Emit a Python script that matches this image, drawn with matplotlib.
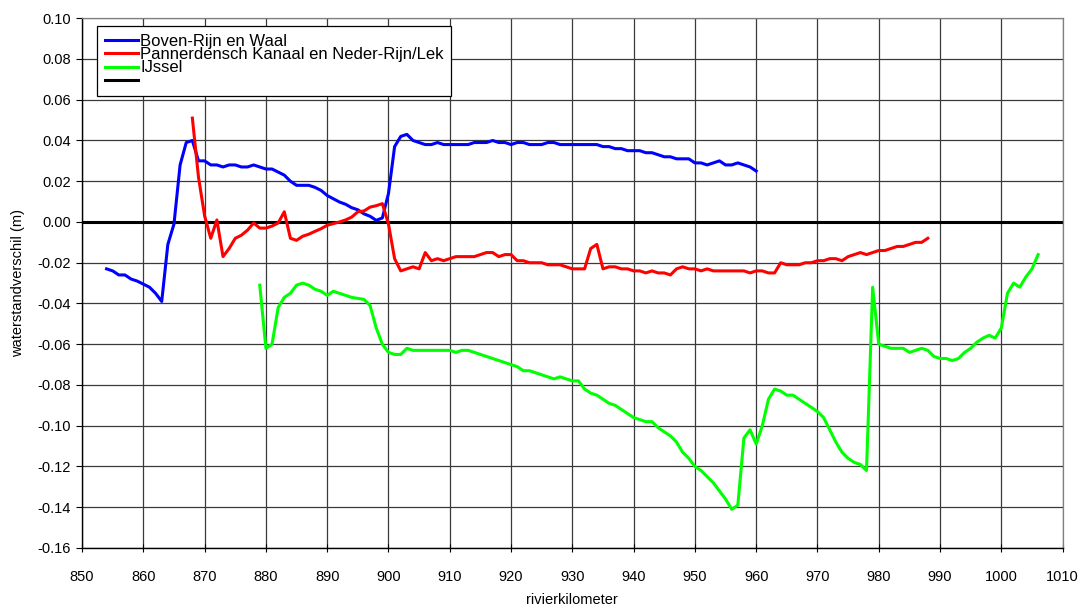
import numpy as np
import matplotlib
matplotlib.use("Agg")
import matplotlib.pyplot as plt

plt.rcParams['font.family'] = ['Liberation Sans', 'DejaVu Sans']
plt.rcParams['axes.unicode_minus'] = False

# Boven-Rijn en Waal
km_waal = np.arange(854, 961)
dh_waal = [-0.023, -0.024, -0.026, -0.026, -0.028, -0.029, -0.0305, -0.032, -0.035, -0.039,
           -0.011, -0.001, 0.028, 0.039, 0.040, 0.030, 0.030, 0.028, 0.028, 0.027,
           0.028, 0.028, 0.027, 0.027, 0.028, 0.027, 0.026, 0.026, 0.0245, 0.023,
           0.020, 0.018, 0.018, 0.018, 0.017, 0.0155, 0.013, 0.0114, 0.0098, 0.0087,
           0.007, 0.006, 0.004, 0.0028, 0.0008, 0.002, 0.014, 0.037, 0.042, 0.043,
           0.040, 0.039, 0.038, 0.038, 0.039, 0.038, 0.038, 0.038, 0.038, 0.038,
           0.039, 0.039, 0.039, 0.040, 0.039, 0.039, 0.038, 0.039, 0.039, 0.038,
           0.038, 0.038, 0.039, 0.039, 0.038, 0.038, 0.038, 0.038, 0.038, 0.038,
           0.038, 0.037, 0.037, 0.036, 0.036, 0.035, 0.035, 0.035, 0.034, 0.034,
           0.033, 0.032, 0.032, 0.031, 0.031, 0.031, 0.029, 0.029, 0.028, 0.029,
           0.030, 0.028, 0.028, 0.029, 0.028, 0.027, 0.025]

# Pannerdensch Kanaal en Neder-Rijn/Lek
km_lek = np.arange(868, 989)
dh_lek = [0.051, 0.022, 0.003, -0.008, 0.001, -0.017, -0.013, -0.008, -0.0065, -0.004,
          -0.0005, -0.003, -0.003, -0.002, -0.0005, 0.005, -0.008, -0.009, -0.007, -0.006,
          -0.0046, -0.0033, -0.0016, -0.0008, 0.000, 0.001, 0.0024, 0.005, 0.0054, 0.0073,
          0.008, 0.009, -0.001, -0.018, -0.024, -0.023, -0.022, -0.023, -0.015, -0.019,
          -0.018, -0.019, -0.018, -0.017, -0.017, -0.017, -0.017, -0.016, -0.015, -0.015,
          -0.017, -0.016, -0.016, -0.019, -0.019, -0.020, -0.020, -0.020, -0.021, -0.021,
          -0.021, -0.022, -0.023, -0.023, -0.023, -0.013, -0.011, -0.023, -0.022, -0.022,
          -0.023, -0.023, -0.024, -0.024, -0.025, -0.024, -0.025, -0.025, -0.026, -0.023,
          -0.022, -0.023, -0.023, -0.024, -0.023, -0.024, -0.024, -0.024, -0.024, -0.024,
          -0.024, -0.025, -0.024, -0.024, -0.025, -0.025, -0.020, -0.021, -0.021, -0.021,
          -0.020, -0.020, -0.019, -0.019, -0.018, -0.018, -0.019, -0.017, -0.016, -0.015,
          -0.016, -0.015, -0.014, -0.014, -0.013, -0.012, -0.012, -0.011, -0.010, -0.010,
          -0.008]

# IJssel
km_ijssel = np.arange(879, 1007)
dh_ijssel = [-0.031, -0.062, -0.060, -0.042, -0.037, -0.035, -0.031, -0.030, -0.031, -0.033,
             -0.034, -0.036, -0.034, -0.035, -0.036, -0.037, -0.0375, -0.038, -0.041, -0.052,
             -0.060, -0.064, -0.065, -0.065, -0.062, -0.063, -0.063, -0.063, -0.063, -0.063,
             -0.063, -0.063, -0.064, -0.063, -0.063, -0.064, -0.065, -0.066, -0.067, -0.068,
             -0.069, -0.070, -0.071, -0.073, -0.073, -0.074, -0.075, -0.076, -0.077, -0.076,
             -0.077, -0.078, -0.078, -0.082, -0.084, -0.085, -0.087, -0.089, -0.090, -0.092,
             -0.094, -0.096, -0.097, -0.098, -0.098, -0.101, -0.103, -0.105, -0.108, -0.113,
             -0.116, -0.120, -0.122, -0.125, -0.128, -0.132, -0.136, -0.141, -0.139, -0.106,
             -0.102, -0.109, -0.100, -0.087, -0.082, -0.083, -0.085, -0.085, -0.087, -0.089,
             -0.091, -0.093, -0.096, -0.102, -0.108, -0.113, -0.116, -0.118, -0.119, -0.122,
             -0.032, -0.060, -0.061, -0.062, -0.062, -0.062, -0.064, -0.063, -0.062, -0.063,
             -0.066, -0.067, -0.067, -0.068, -0.067, -0.064, -0.062, -0.059, -0.057, -0.0556,
             -0.057, -0.052, -0.035, -0.030, -0.032, -0.027, -0.023, -0.016]

series_labels = ['Boven-Rijn en Waal', 'Pannerdensch Kanaal en Neder-Rijn/Lek', 'IJssel']
xticks = list(range(850, 1011, 10))
yticks = [-0.16, -0.14, -0.12, -0.10, -0.08, -0.06, -0.04, -0.02,
          0.00, 0.02, 0.04, 0.06, 0.08, 0.10]
ytick_labels = ['%.2f' % v for v in yticks]

fig = plt.figure(figsize=(10.81, 6.08), dpi=100)
ax = fig.add_axes([0.0759, 0.0987, 0.9071, 0.8713])

# grid
ax.set_axisbelow(True)
ax.grid(True, color='#3a3a3a', linewidth=0.9)

l1, = ax.plot(km_waal, dh_waal, color='#0000ff', lw=2.2)
l2, = ax.plot(km_lek, dh_lek, color='#ff0000', lw=2.2)
l3, = ax.plot(km_ijssel, dh_ijssel, color='#00ff00', lw=2.2)
l0 = ax.axhline(0, color='black', lw=2.2, zorder=1.5)

ax.set_xlim(850, 1010)
ax.set_ylim(-0.16, 0.10)
ax.set_xticks(xticks)
ax.set_yticks(yticks)
ax.set_yticklabels(ytick_labels)

ax.tick_params(axis='y', direction='out', length=4, labelsize=10.5, pad=4)
ax.tick_params(axis='x', direction='inout', length=6, labelsize=10.5, pad=13)

for s in ['top', 'right']:
    ax.spines[s].set_color('#808080')
    ax.spines[s].set_linewidth(0.9)
for s in ['left', 'bottom']:
    ax.spines[s].set_color('black')
    ax.spines[s].set_linewidth(1.0)

ax.set_xlabel('rivierkilometer', fontsize=10.5, labelpad=6)
ax.set_ylabel('waterstandverschil (m)', fontsize=10.5, labelpad=9)

leg = ax.legend([l1, l2, l3, l0], series_labels + [''],
                loc='upper left', bbox_to_anchor=(0.0153, 0.985),
                borderaxespad=0, fontsize=12, labelspacing=-0.1,
                handlelength=2.0, handletextpad=0.15, borderpad=0.45,
                fancybox=False, framealpha=1, edgecolor='black')
leg.get_frame().set_linewidth(0.9)

fig.savefig('out.png', dpi=100)
